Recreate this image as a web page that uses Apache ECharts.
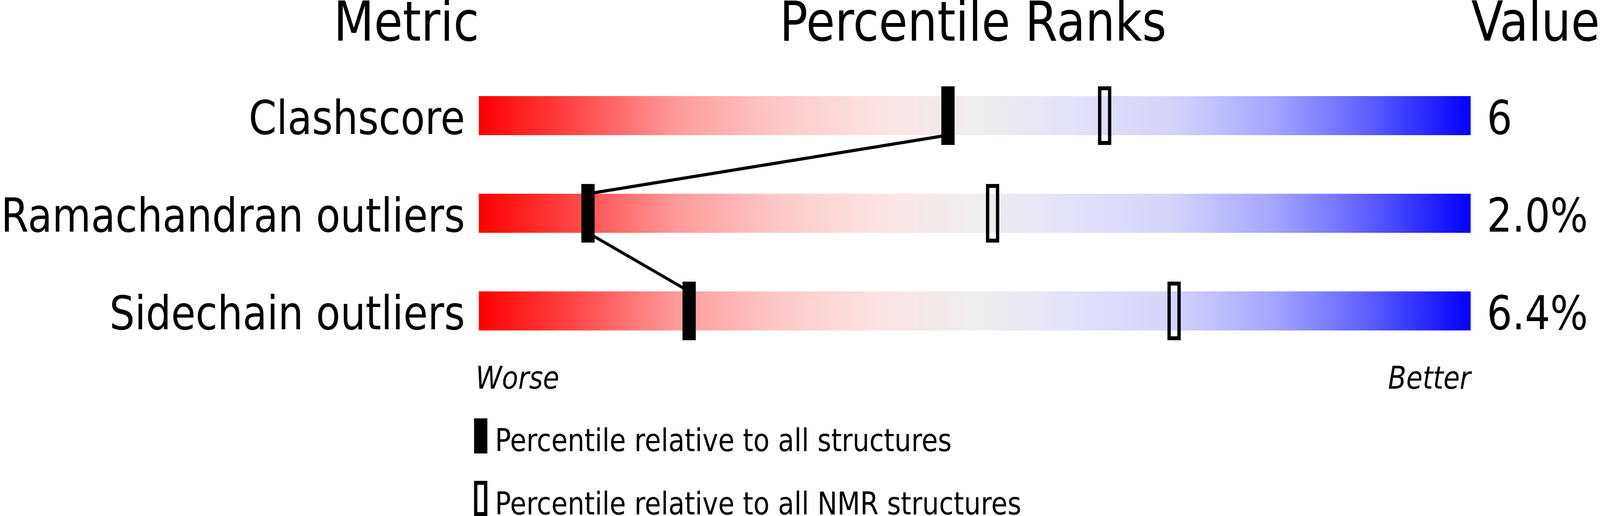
<!DOCTYPE html>
<html>
<head>
<meta charset="utf-8">
<script src="https://cdn.jsdelivr.net/npm/echarts@6/dist/echarts.min.js"></script>
<style>
html,body{margin:0;padding:0;background:#fff;overflow:hidden;}
#chart{width:4823px;height:1321px;transform-origin:0 0;}
</style>
</head>
<body>
<div id="chart"></div>
<script>
var metrics = ['Clashscore', 'Ramachandran outliers', 'Sidechain outliers'];
var valueLabels = ['6', '2.0%', '6.4%'];
var allPct = [47.3, 11.0, 21.2];   // percentile relative to all structures
var nmrPct = [63.1, 51.8, 70.1];   // percentile relative to all NMR structures
var nameAll = 'Percentile relative to all structures';
var nameNmr = 'Percentile relative to all NMR structures';

var FONT = 'DejaVu Sans';
var W = 4823, H = 1321;

// red -> grey -> blue slider
var stops = [
	{offset: 0, color: '#ff0000'},
	{offset: 0.1, color: '#ff4a4a'},
	{offset: 0.2, color: '#ff9b9b'},
	{offset: 0.3, color: '#ffc8c8'},
	{offset: 0.4, color: '#fde2e2'},
	{offset: 0.5, color: '#eeeeee'},
	{offset: 0.6, color: '#e2e2fa'},
	{offset: 0.7, color: '#d4d4fd'},
	{offset: 0.8, color: '#a6a6ff'},
	{offset: 0.9, color: '#5c5cff'},
	{offset: 1, color: '#0000ff'}
];

var barData = metrics.map(function(m, i){ return [100, i]; });
var allData = allPct.map(function(v, i){ return [v, i]; });
var nmrData = nmrPct.map(function(v, i){ return [v, i]; });
var linkData = [];
for (var i = 0; i < allPct.length - 1; i++) {
	linkData.push([allPct[i], i, allPct[i + 1], i + 1]);
}

function renderBar(params, api){
	var row = api.value(1);
	var p0 = api.coord([0, row]);
	var p1 = api.coord([api.value(0), row]);
	var h = api.size([0, 1])[1] * 0.4;
	return {
		type: 'rect',
		shape: {x: p0[0], y: p0[1] - h / 2, width: p1[0] - p0[0], height: h},
		style: {fill: new echarts.graphic.LinearGradient(0, 0, 1, 0, stops)}
	};
}

function renderLink(params, api){
	var a = api.coord([api.value(0), api.value(1)]);
	var b = api.coord([api.value(2), api.value(3)]);
	var half = api.size([0, 1])[1] * 0.2;
	return {
		type: 'line',
		shape: {x1: a[0], y1: a[1] + half, x2: b[0], y2: b[1] - half},
		style: {stroke: '#000', lineWidth: 8}
	};
}

function renderFilled(params, api){
	var c = api.coord([api.value(0), api.value(1)]);
	var h = api.size([0, 1])[1] * 0.6;
	return {
		type: 'rect',
		shape: {x: c[0] - 20, y: c[1] - h / 2, width: 40, height: h},
		style: {fill: '#000'}
	};
}

function renderOpen(params, api){
	var c = api.coord([api.value(0), api.value(1)]);
	var h = api.size([0, 1])[1] * 0.6;
	return {
		type: 'rect',
		shape: {x: c[0] - 15, y: c[1] - h / 2 + 5, width: 30, height: h - 10},
		style: {fill: 'none', stroke: '#000', lineWidth: 10}
	};
}

function txt(s, x, y, size, align, italic){
	return {type: 'text', x: x, y: y, silent: true, style: {
		text: s, font: (italic ? 'italic ' : '') + size + 'px "DejaVu Sans"', fill: '#000',
		align: align, verticalAlign: 'middle', textAlign: align, textVerticalAlign: 'middle'}};
}

// the window may be narrower than the drawing; fit the whole drawing into it
var box = document.getElementById('chart');
box.style.transform = 'scale(' + (window.innerWidth / W) + ',' + (window.innerHeight / H) + ')';

var myChart = echarts.init(box);
var option = {
	backgroundColor: '#fff',
	animation: false,
	grid: {left: 1433, top: 171, width: 3000, height: 750},
	xAxis: {type: 'value', min: 0, max: 100, show: false},
	yAxis: [
		{
			type: 'category', data: metrics, inverse: true,
			axisLine: {show: false}, axisTick: {show: false},
			axisLabel: {fontFamily: FONT, fontSize: 120, color: '#000', margin: 42, verticalAlign: 'top', lineHeight: 31}
		},
		{
			type: 'category', data: valueLabels, inverse: true, position: 'right',
			axisLine: {show: false}, axisTick: {show: false},
			axisLabel: {fontFamily: FONT, fontSize: 120, color: '#000', margin: 49, verticalAlign: 'top', lineHeight: 31}
		}
	],
	graphic: [
		txt('Metric', 1444, 67, 141, 'right'),
		txt('Percentile Ranks', 2933, 67, 141, 'center'),
		txt('Value', 4435, 67, 141, 'left'),
		txt('Worse', 1434, 974, 80, 'left', true),
		txt('Better', 4433, 974, 80, 'right', true),
		{type: 'rect', silent: true, shape: {x: 1429, y: 1071, width: 40, height: 90}, style: {fill: '#000'}},
		txt(nameAll, 1492, 1134, 80, 'left'),
		{type: 'rect', silent: true, shape: {x: 1434, y: 1236, width: 30, height: 80}, style: {fill: 'none', stroke: '#000', lineWidth: 10}},
		txt(nameNmr, 1492, 1296, 80, 'left')
	],
	series: [
		{name: 'slider', type: 'custom', renderItem: renderBar, data: barData, encode: {x: 0, y: 1}, z: 1, silent: true},
		{name: 'link', type: 'custom', renderItem: renderLink, data: linkData, encode: {x: [0, 2], y: [1, 3]}, z: 2, silent: true},
		{name: nameAll, type: 'custom', renderItem: renderFilled, data: allData, encode: {x: 0, y: 1}, z: 3},
		{name: nameNmr, type: 'custom', renderItem: renderOpen, data: nmrData, encode: {x: 0, y: 1}, z: 3}
	]
};
myChart.setOption(option);
</script>
</body>
</html>
